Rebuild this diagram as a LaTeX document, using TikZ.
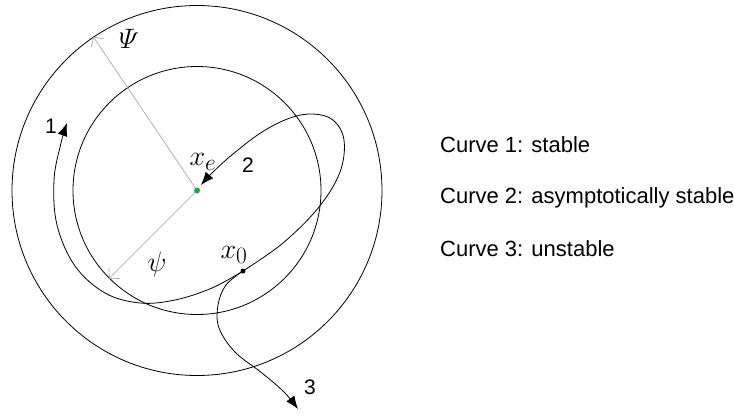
\documentclass[tikz,border=0pt]{standalone}
\usepackage{amsmath}
\usepackage{graphicx}
\usepackage{fontspec}
\setmainfont{Liberation Sans}
\usetikzlibrary{arrows.meta}
\newcommand{\mlab}[1]{\scalebox{1.13}{$#1$}}
\begin{document}
\begin{tikzpicture}[x=1pt,y=-1pt]
\useasboundingbox (0,0) rectangle (734,416);
\tikzset{
  curve/.style={line width=0.8pt, black},
  tipped/.style={curve, -{Latex[length=13pt,width=10pt]}},
  radarrow/.style={gray!75, line width=0.6pt, -{Straight Barb[length=7pt,width=15pt]}},
  lbl/.style={font=\fontsize{21}{25}\selectfont, inner sep=0},
  mlbl/.style={font=\fontsize{24.88}{30}\selectfont, inner sep=0},
  legend/.style={font=\fontsize{22}{26}\selectfont, anchor=base west, inner sep=0}
}
\coordinate (xe) at (197,190.5);
\coordinate (x0) at (243,271);
\node[draw, curve, circle, minimum size=370pt, inner sep=0] (outer) at (xe) {};
\node[draw, curve, circle, minimum size=248pt, inner sep=0] (inner) at (xe) {};
\draw[radarrow] (xe) -- (outer.124.5);
\draw[radarrow] (xe) -- (inner.225);
% curve 1
\coordinate (c1end) at (67,123);
\draw[tipped] plot[smooth, tension=0.6] coordinates {(x0) (212,288) (175,300) (140,303) (105,293) (75,266) (57,225) (54,180) (61,143) (c1end)};
% curve 2
\coordinate (c2end) at (201,185);
\draw[tipped] plot[smooth, tension=0.6] coordinates {(x0) (283,243) (319,207) (340,172) (344,140) (333,120) (313,114) (290,118) (262,132) (233,154) (213,172) (c2end)};
% curve 3
\coordinate (c3end) at (298,409);
\draw[tipped] plot[smooth, tension=0.6] coordinates {(x0) (226,285) (218,305) (219,328) (235,352) (262,373) (284,392) (c3end)};
% dots
\node[circle, fill={rgb,255:red,30;green,170;blue,70}, minimum size=6pt, inner sep=0] (xedot) at (xe) {};
\node[circle, fill=black, minimum size=5pt, inner sep=0] (x0dot) at (x0) {};
% labels
\node[mlbl] (PsiL) at (129,39) {\mlab{\varPsi}};
\node[mlbl] (psiL) at (157,264) {\mlab{\psi}};
\node[mlbl] (xeL) at (203,162) {\mlab{x_e}};
\node[mlbl] (x0L) at (234,255) {\mlab{x_0}};
\node[lbl] (n1) at (51,126) {1};
\node[lbl] (n2) at (248,165) {2};
\node[lbl] (n3) at (310,387) {3};
% legend
\node[legend] (leg1) at (440,152) {Curve 1: stable};
\node[legend] (leg2) at (440,203) {Curve 2: asymptotically stable};
\node[legend] (leg3) at (440,256) {Curve 3: unstable};
\end{tikzpicture}
\end{document}
